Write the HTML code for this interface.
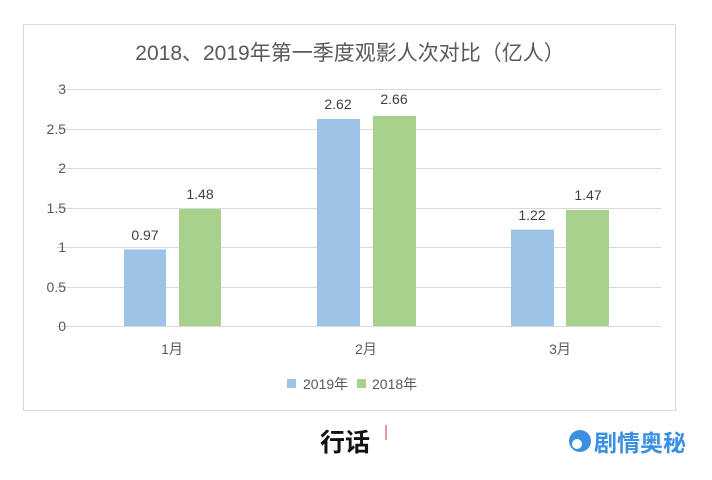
<!DOCTYPE html><html><head><meta charset="utf-8"><style>body{margin:0;background:#fff;width:712px;height:475px;overflow:hidden}</style></head><body>
<svg width="712" height="475" xmlns="http://www.w3.org/2000/svg" font-family="'Liberation Sans','Noto Sans CJK SC',sans-serif">
<rect x="23.5" y="24.5" width="652" height="386" fill="#fff" stroke="#d9d9d9"/>
<text x="350" y="60" font-size="21" fill="#595959" text-anchor="middle">2018、2019年第一季度观影人次对比（亿人）</text>
<g stroke="#d9d9d9" stroke-width="1">
<line x1="57" x2="661" y1="89.5" y2="89.5"/><line x1="57" x2="661" y1="129.5" y2="129.5"/><line x1="57" x2="661" y1="168.5" y2="168.5"/><line x1="57" x2="661" y1="208.5" y2="208.5"/><line x1="57" x2="661" y1="247.5" y2="247.5"/><line x1="57" x2="661" y1="287.5" y2="287.5"/><line x1="57" x2="661" y1="326.5" y2="326.5"/>
</g>
<g font-size="14" fill="#595959" text-anchor="end">
<text x="66" y="94">3</text><text x="66" y="134">2.5</text><text x="66" y="173">2</text><text x="66" y="213">1.5</text><text x="66" y="252">1</text><text x="66" y="292">0.5</text><text x="66" y="331">0</text>
</g>
<g fill="#9dc3e6"><rect x="124" y="249.4" width="42" height="76.6"/><rect x="317" y="119" width="43" height="207"/><rect x="511" y="229.6" width="43" height="96.4"/></g>
<g fill="#a9d18e"><rect x="179" y="209" width="42" height="117"/><rect x="373" y="115.9" width="43" height="210.1"/><rect x="566" y="209.9" width="43" height="116.1"/></g>
<g font-size="14" fill="#404040" text-anchor="middle">
<text x="145" y="240">0.97</text><text x="200" y="199">1.48</text>
<text x="338" y="109">2.62</text><text x="394" y="104">2.66</text>
<text x="532" y="220">1.22</text><text x="588" y="200">1.47</text>
</g>
<g font-size="14" fill="#595959" text-anchor="middle"><text x="172" y="354">1月</text><text x="366" y="354">2月</text><text x="560" y="354">3月</text></g>
<rect x="287" y="379" width="9" height="9" fill="#9dc3e6"/><text x="303" y="389" font-size="14" fill="#595959">2019年</text>
<rect x="357" y="379" width="9" height="9" fill="#a9d18e"/><text x="372" y="389" font-size="14" fill="#595959">2018年</text>
<text x="320" y="451" font-size="25" font-weight="bold" fill="#111">行话</text>
<line x1="386" y1="425" x2="386" y2="440" stroke="#c33" stroke-width="1"/>
<circle cx="580" cy="441" r="11" fill="#3b8fe0"/><circle cx="577" cy="444" r="5" fill="#fff"/>
<text x="594" y="451" font-size="23" font-weight="bold" fill="#3b8fe0">剧情奥秘</text>
</svg></body></html>
